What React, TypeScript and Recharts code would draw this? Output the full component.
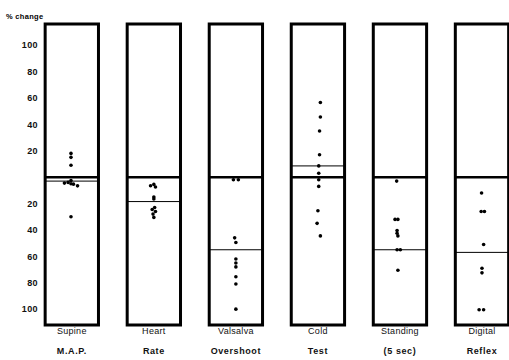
import { ScatterChart, Scatter, XAxis, YAxis, ReferenceArea, ReferenceLine } from "recharts";

// test names, two lines each
const tests = [
  ["Supine", "M.A.P."],
  ["Heart", "Rate"],
  ["Valsalva", "Overshoot"],
  ["Cold", "Test"],
  ["Standing", "(5 sec)"],
  ["Digital", "Reflex"],
];

// [x jitter within panel, % change]
const supineMap = [
  [-0.01, 18], [-0.01, 15], [-0.01, 9], [-0.01, -2.5], [-0.09, -4.5],
  [-0.045, -4], [-0.01, -5], [0.02, -5.3], [0.07, -6.6], [-0.01, -30],
];
const heartRate = [
  [-0.04, -6.5], [0, -5.5], [0.02, -7.5], [0, -15], [0, -16.5],
  [0.01, -23], [-0.02, -24.5], [0.02, -26], [-0.01, -28], [0, -30.5],
];
const valsalva = [
  [-0.03, -2], [0.03, -2], [-0.015, -46], [0, -49.5], [0, -62],
  [0, -65], [0, -68], [0, -75.5], [0, -81], [0, -100],
];
const coldTest = [
  [0.03, 56.5], [0.03, 45.5], [0.02, 35], [0.02, 17], [0.01, 8.5], [0.01, 3],
  [0.01, -2], [0.01, -7], [0, -25.5], [-0.01, -35], [0.03, -44.5],
];
const standing = [
  [-0.04, -3], [-0.06, -32], [-0.025, -32], [-0.035, -40.5], [-0.035, -42.5],
  [-0.025, -44.5], [-0.035, -55], [0.005, -55], [-0.025, -70.5],
];
const digitalReflex = [
  [-0.005, -12], [-0.01, -26], [0.03, -26], [0.02, -51],
  [0, -69], [0, -72.5], [-0.035, -100.5], [0.02, -100.5],
];

const medians = [-3, -18.5, -55, 8.5, -55, -57];
const yTicks = [100, 80, 60, 40, 20, -20, -40, -60, -80, -100];

const panels = [supineMap, heartRate, valsalva, coldTest, standing, digitalReflex];
const points = panels.flatMap((pts, i) => pts.map(([dx, v]) => ({ x: i + dx, y: v })));

const FONT = '"Liberation Sans", Arial, sans-serif';
const HALF = 0.325;

const TestTick = (props: any) => {
  const { x, y, payload } = props;
  const lines = tests[payload.value] || ["", ""];
  return (
    <g>
      <text x={x} y={y + 9} textAnchor="middle" fontSize={9} fontFamily={FONT} fill="#111" letterSpacing={0.3}>
        {lines[0]}
      </text>
      <text x={x} y={y + 29} textAnchor="middle" fontSize={9} fontFamily={FONT} fontWeight="bold" fill="#111" letterSpacing={0.6}>
        {lines[1]}
      </text>
    </g>
  );
};

const Dot = (p: any) => <circle cx={p.cx} cy={p.cy} r={1.8} fill="#000" />;

export default function App() {
  return (
    <div style={{ position: "absolute", left: 0, top: 0, width: 509, height: 360, overflow: "hidden", background: "#fff" }}>
      <div style={{ position: "absolute", left: 6, top: 12, fontSize: 7.5, fontWeight: "bold", fontFamily: FONT, letterSpacing: 0.3 }}>
        % change
      </div>
      <ScatterChart width={523} height={360} margin={{ top: 24, right: 0, bottom: 0, left: 0 }}>
        <XAxis
          type="number"
          dataKey="x"
          domain={[-0.4, 5.5]}
          ticks={[0, 1, 2, 3, 4, 5]}
          interval={0}
          axisLine={false}
          tickLine={false}
          tickSize={0}
          tickMargin={0}
          height={35}
          tick={<TestTick />}
        />
        <YAxis
          type="number"
          dataKey="y"
          domain={[-112, 116]}
          ticks={yTicks}
          interval={0}
          tickFormatter={(v: number) => String(Math.abs(v))}
          axisLine={false}
          tickLine={false}
          tickSize={0}
          tickMargin={1}
          width={39}
          tick={{ fontSize: 9, fontWeight: "bold", fontFamily: FONT, fill: "#111", letterSpacing: 0.4 }}
        />
        {tests.map((_, i) => (
          <ReferenceArea
            key={"box" + i}
            x1={i - HALF}
            x2={i + HALF}
            y1={-112}
            y2={116}
            fill="none"
            stroke="#000"
            strokeWidth={3}
            ifOverflow="visible"
          />
        ))}
        {tests.map((_, i) => (
          <ReferenceLine
            key={"zero" + i}
            segment={[{ x: i - HALF, y: 0 }, { x: i + HALF, y: 0 }]}
            stroke="#000"
            strokeWidth={2.5}
          />
        ))}
        {medians.map((m, i) => (
          <ReferenceLine
            key={"med" + i}
            segment={[{ x: i - HALF, y: m }, { x: i + HALF, y: m }]}
            stroke="#000"
            strokeWidth={1}
          />
        ))}
        <Scatter data={points} shape={<Dot />} isAnimationActive={false} />
      </ScatterChart>
    </div>
  );
}
